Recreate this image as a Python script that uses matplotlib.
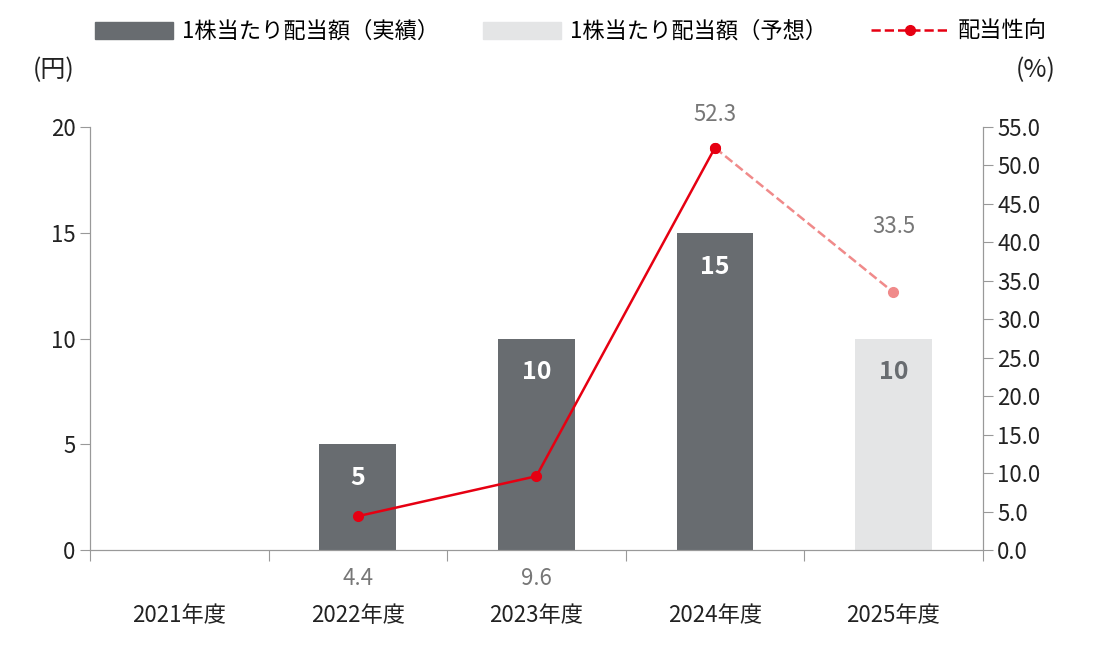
import matplotlib
matplotlib.use("Agg")
import matplotlib.pyplot as plt
from matplotlib.lines import Line2D
from matplotlib.patches import Patch

plt.rcParams["font.family"] = "Noto Sans CJK JP"

years = ["2021年度", "2022年度", "2023年度", "2024年度", "2025年度"]
dividend = [None, 5, 10, 15, 10]
forecast = [False, False, False, False, True]
payout = [None, 4.4, 9.6, 52.3, 33.5]

DARK = "#686c70"
LIGHT = "#e4e5e6"
RED = "#e60012"
PINK = "#f08a8a"
GRAY = "#777777"

fig = plt.figure(figsize=(10.98, 6.72), dpi=100)
ax = fig.add_axes([0.082, 0.1815, 0.813, 0.6295])
ax2 = ax.twinx()

for i, (v, f) in enumerate(zip(dividend, forecast)):
    if v is None:
        continue
    ax.bar(i, v, width=0.43, color=LIGHT if f else DARK, zorder=2)
    ax.text(i, v - 1.6, str(v), ha="center", va="center", fontsize=18,
            fontweight="bold", color=DARK if f else "white", zorder=3)

ax.set_xlim(-0.5, 4.5)
ax.set_ylim(0, 20)
ax2.set_ylim(0, 55)
ax.set_yticks([0, 5, 10, 15, 20])
ax2.set_yticks([i * 5 for i in range(12)])
ax2.set_yticklabels([f"{i * 5:.1f}" for i in range(12)])
ax.set_xticks([i - 0.5 for i in range(6)])
ax.set_xticklabels([])
ax.tick_params(axis="x", length=8, color="#999999")
for a in (ax, ax2):
    a.tick_params(axis="y", labelsize=16, length=7, color="#999999", labelcolor="#222222")
    a.spines["top"].set_visible(False)
    for s in ("left", "right", "bottom"):
        a.spines[s].set_color("#999999")
for i, y in enumerate(years):
    ax.text(i, -3.1, y, ha="center", va="center", fontsize=16, color="#222222")

# payout ratio line
ax2.plot([1, 2, 3], payout[1:4], color=RED, lw=1.8, marker="o", ms=7, zorder=4)
ax2.plot([3, 4], payout[3:5], color=PINK, lw=1.8, ls="--", zorder=4)
ax2.plot([4], [payout[4]], color=PINK, marker="o", ms=7, zorder=4)
ax2.plot([3], [payout[3]], color=RED, marker="o", ms=7, zorder=5)
for i in (1, 2):
    ax2.text(i, -3.7, f"{payout[i]}", ha="center", va="center", fontsize=16, color=GRAY)
ax2.text(3, payout[3] + 4.3, f"{payout[3]}", ha="center", va="center", fontsize=16, color=GRAY)
ax2.text(4, payout[4] + 8.5, f"{payout[4]}", ha="center", va="center", fontsize=16, color=GRAY)

fig.text(0.03, 0.885, "(円)", fontsize=18, color="#222222")
fig.text(0.925, 0.885, "(%)", fontsize=18, color="#222222")

handles = [
    Patch(color=DARK),
    Patch(color=LIGHT),
    Line2D([], [], color=RED, ls="--", marker="o", ms=7, lw=1.8),
]
labels = ["1株当たり配当額（実績）", "1株当たり配当額（予想）", "配当性向"]
fig.legend(handles, labels, loc="upper center", bbox_to_anchor=(0.52, 1.0), ncol=3,
           frameon=False, fontsize=16, handlelength=3.5, handleheight=0.8,
           handletextpad=0.4, columnspacing=2.0)

fig.savefig("out.png", dpi=100)
